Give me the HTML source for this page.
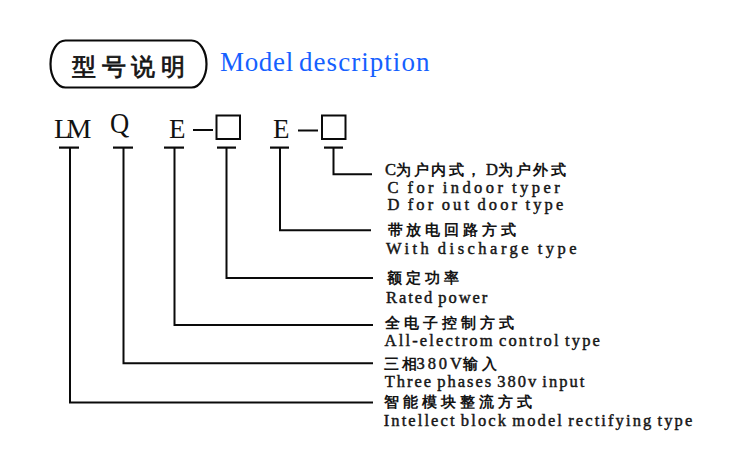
<!DOCTYPE html>
<html><head><meta charset="utf-8">
<style>
html,body{margin:0;padding:0;background:#fff;width:750px;height:466px;overflow:hidden;position:relative}
.a{position:absolute;white-space:nowrap;line-height:1}
.ser{font-family:"Liberation Serif",serif}
.cn{font-family:"Liberation Sans",sans-serif;font-weight:bold;font-size:15px;color:#151515}
.cn .s{font-family:"Liberation Serif",serif;font-weight:normal;font-size:16.5px;letter-spacing:0;-webkit-text-stroke:0.45px #151515}
.en{font-family:"Liberation Serif",serif;font-size:16.5px;word-spacing:-2px;color:#151515;-webkit-text-stroke:0.45px #151515}
svg{position:absolute;left:0;top:0}
</style></head><body>
<svg width="750" height="466" viewBox="0 0 750 466">
 <rect x="50.5" y="40.5" width="156" height="47" rx="15" ry="23.5" fill="none" stroke="#0a0a0a" stroke-width="2.2"/>
 <g stroke="#0a0a0a" stroke-width="2" fill="none">
  <line x1="59" y1="147.6" x2="79" y2="147.6" stroke-width="2.2"/>
  <line x1="113" y1="147.6" x2="133" y2="147.6" stroke-width="2.2"/>
  <line x1="164" y1="147.6" x2="184" y2="147.6" stroke-width="2.2"/>
  <line x1="217" y1="147.6" x2="236" y2="147.6" stroke-width="2.2"/>
  <line x1="270" y1="147.6" x2="289" y2="147.6" stroke-width="2.2"/>
  <line x1="324" y1="147.6" x2="343" y2="147.6" stroke-width="2.2"/>
  <polyline points="70,147 70,402.5 373,402.5"/>
  <polyline points="123.5,147 123.5,363.2 373,363.2"/>
  <polyline points="174.5,147 174.5,325.1 373,325.1"/>
  <polyline points="226.5,147 226.5,278 373,278"/>
  <polyline points="280,147 280,230.3 371,230.3"/>
  <polyline points="333.5,147 333.5,174.3 372,174.3"/>
  <line x1="193" y1="130" x2="213" y2="130"/>
  <line x1="298" y1="130.5" x2="318" y2="130.5"/>
  <rect x="216.5" y="115.5" width="23.5" height="23.5"/>
  <rect x="322" y="115.5" width="23.5" height="23.5"/>
 </g>
</svg>
<div id="t1" class="a cn" style="left:72px;top:55px;font-size:24px;letter-spacing:5.6px;font-weight:normal;-webkit-text-stroke:0.8px #151515">型号说明</div>
<div id="t2" class="a ser" style="left:220px;top:49px;font-size:27px;letter-spacing:0.68px;color:#1560ff">Model</div>
<div id="t3" class="a ser" style="left:299px;top:49px;font-size:27px;letter-spacing:1.05px;color:#1560ff">description</div>

<div id="lm" class="a ser" style="left:54px;top:115px;font-size:28px;color:#111;letter-spacing:-4.5px">LM</div>
<div id="q" class="a ser" style="left:110px;top:109px;font-size:28px;color:#111;transform:scale(0.95,1.06);transform-origin:0 0">Q</div>
<div id="e1" class="a ser" style="left:169px;top:116px;font-size:27px;color:#111">E</div>
<div id="e2" class="a ser" style="left:273px;top:116px;font-size:27px;color:#111">E</div>

<div id="r1" class="a cn" style="left:385px;top:162px;letter-spacing:2.6px"><span class="s">C</span>为户内式，</div>
<div id="r1b" class="a cn" style="left:486px;top:162px;letter-spacing:2.6px"><span class="s">D</span>为户外式</div>
<div id="r2" class="a en" style="left:387.4px;top:180px;letter-spacing:3.46px">C for indoor typer</div>
<div id="r3" class="a en" style="left:387.4px;top:197px;letter-spacing:3.14px">D for out door type</div>
<div id="r4" class="a cn" style="left:387.5px;top:221.5px;letter-spacing:3.87px">带放电回路方式</div>
<div id="r5" class="a en" style="left:386px;top:241px;letter-spacing:3.48px">With discharge type</div>
<div id="r6" class="a cn" style="left:387px;top:270px;letter-spacing:4.1px">额定功率</div>
<div id="r7" class="a en" style="left:386px;top:290px;letter-spacing:1.95px">Rated power</div>
<div id="r8" class="a cn" style="left:384.8px;top:315px;letter-spacing:4px">全电子控制方式</div>
<div id="r9" class="a en" style="left:384.6px;top:333px;letter-spacing:2.15px">All-electrom control type</div>
<div id="r10" class="a cn" style="left:383.9px;top:356px;letter-spacing:3px">三相</div>
<div id="r10b" class="a cn" style="left:416.5px;top:356px"><span class="s" style="letter-spacing:2.9px">380V</span></div>
<div id="r10c" class="a cn" style="left:463.2px;top:356px;letter-spacing:3.4px">输入</div>
<div id="r11" class="a en" style="left:384.7px;top:374px;letter-spacing:1.99px">Three phases 380v input</div>
<div id="r12" class="a cn" style="left:384px;top:394px;letter-spacing:4.03px">智能模块整流方式</div>
<div id="r13" class="a en" style="left:383.7px;top:413px;letter-spacing:2.1px">Intellect block model rectifying type</div>
</body></html>
